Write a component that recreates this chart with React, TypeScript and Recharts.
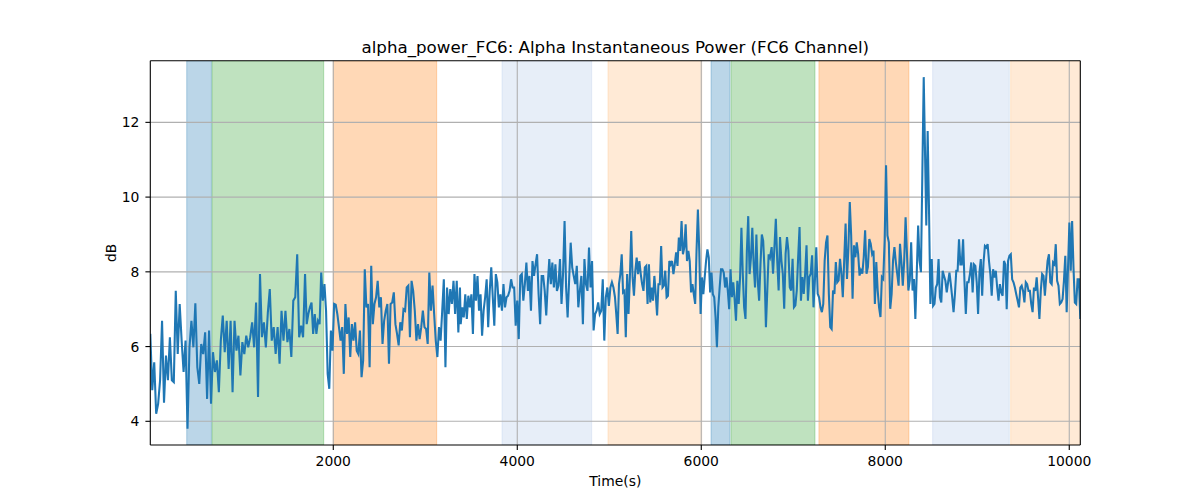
import React from 'react';
import { LineChart, Line, XAxis, YAxis, ReferenceArea, ReferenceLine } from 'recharts';

// alpha power (dB), per section of the time axis
const seg1 = [6.34, 4.83, 5.58, 4.2, 4.47, 5.1, 6.69, 4.5, 5.76, 5.1, 6.25, 5.1, 5.05, 7.49, 5.8, 7.14, 6.16, 5.32, 6.16, 3.8, 5.98, 6.69, 5.98, 7.16, 5.45, 5.0, 6.07, 5.8, 6.38, 4.6, 6.43, 4.47, 5.85, 5.32, 5.63, 4.78, 6.16, 6.83, 5.85, 6.69, 5.4, 6.69, 4.78, 6.69, 5.89, 6.29, 5.23, 6.12, 5.8, 6.29, 5.98, 6.25, 6.65, 5.98, 7.18, 4.65, 7.94, 6.25, 6.65, 5.98, 6.9, 7.54, 6.16, 6.52, 5.8, 6.52, 5.54, 6.96, 6.16, 6.96, 6.12, 6.47, 5.72, 7.23, 7.32, 8.47, 6.25, 6.56, 6.25, 7.94];
const seg2 = [6.6, 6.87, 7.05, 7.18, 6.34, 6.87, 6.34, 6.69, 6.6, 7.98, 7.23, 7.67, 6.96, 5.27, 4.87, 6.43, 5.89, 7.14, 7.12, 6.87, 6.52, 6.16, 6.52, 5.27, 7.14, 6.34, 6.78, 5.72, 6.6, 6.16, 6.65, 5.89, 5.8, 6.43, 5.18, 5.63, 8.07, 7.05, 7.14, 5.45, 8.16, 6.6, 7.14, 7.32, 7.76, 7.05, 7.32, 6.07, 6.69, 6.96, 7.14, 5.54, 7.14, 7.18, 7.45, 6.6, 6.34, 6.03, 6.65, 6.43, 7.0, 6.96, 7.58, 7.63, 6.25, 7.76, 7.49, 6.96, 6.16, 6.6, 6.2, 6.52, 6.96, 6.52, 6.47, 6.07, 7.98, 6.96, 7.63, 6.87, 6.16, 5.72, 6.52, 6.16, 6.96, 7.8, 5.45, 7.58, 6.87, 7.54, 7.14, 7.76, 6.87, 7.76, 6.38, 7.58];
const seg3 = [6.6, 7.05, 6.78, 7.4, 6.74, 7.36, 7.05, 7.4, 6.34, 7.94, 7.23, 7.89, 6.96, 7.4, 6.29, 6.96, 7.32, 7.8, 6.52, 7.49, 8.12, 7.32, 6.56, 7.94, 7.72, 7.05, 7.4, 6.96, 7.67, 7.05, 7.32, 7.36, 7.49, 7.8, 7.58, 7.58, 6.56, 7.23, 6.2, 7.89, 7.94, 7.23, 7.67, 8.25, 7.49, 7.89, 6.96, 8.29, 7.89, 8.2, 8.47, 7.4, 6.6, 7.89, 7.89, 7.49, 6.83, 7.67, 8.34, 7.67, 8.25, 7.58, 8.2, 7.49, 7.63, 8.34, 7.14, 7.94, 9.36, 7.58, 6.78, 7.8, 8.78, 8.12, 7.89, 7.67, 8.16, 7.05, 7.49, 7.89, 6.6, 8.34, 7.67, 7.49, 8.65, 7.58, 8.29, 6.43, 6.87, 6.96, 7.18, 6.87, 6.96, 7.8, 6.16, 7.32, 7.58, 7.09, 7.58, 7.72, 7.58, 7.32];
const seg4 = [6.87, 6.34, 7.67, 7.94, 8.47, 7.45, 7.49, 6.25, 7.94, 6.87, 7.85, 9.09, 7.85, 7.36, 8.03, 8.38, 7.94, 8.29, 7.94, 7.67, 7.49, 8.12, 8.16, 7.14, 8.2, 7.18, 7.58, 7.23, 7.89, 7.4, 6.83, 7.67, 7.67, 8.69, 7.58, 7.63, 8.03, 7.32, 7.36, 8.29, 8.2, 8.29, 7.94, 8.2, 8.52, 8.16, 8.92, 8.56, 9.36, 8.47, 8.65, 9.27, 8.29, 8.56, 8.29, 7.45, 7.67, 7.4, 7.14, 8.56, 9.67, 8.56, 6.87, 7.85, 7.4, 7.85, 8.29, 8.6, 8.38, 7.45, 7.98, 7.4, 7.32, 6.78, 5.98, 7.05, 7.58, 8.07, 8.07, 7.98, 7.58, 7.85, 7.49, 7.0, 8.07, 7.32, 7.72, 7.27, 6.69, 7.76, 7.14, 7.85, 9.18, 7.94, 7.05, 6.74, 8.56, 9.49, 7.94, 8.38, 9.18, 8.2, 7.58, 9.0, 7.76, 7.23, 8.2, 9.0, 8.83, 8.03, 6.52, 7.49, 8.47, 8.38];
const seg5 = [8.66, 7.95, 8.66, 9.42, 8.3, 7.5, 8.93, 8.3, 7.95, 7.01, 8.48, 8.93, 8.57, 7.59, 7.5, 8.35, 7.05, 7.1, 7.5, 8.39, 9.2, 7.23, 7.86, 7.41, 7.95, 8.71, 7.23, 7.86, 7.95, 8.44, 7.05, 7.77, 8.66, 7.41, 7.32, 7.05, 6.92, 7.14, 8.3, 8.79, 8.97, 7.41, 6.52, 6.47, 7.5, 7.41, 8.26, 7.72, 7.77, 8.35, 7.95, 7.32, 8.3, 9.29, 7.81, 8.62, 9.87, 8.97, 7.28, 8.71, 8.39, 8.79, 8.48, 7.9, 8.04, 7.95, 8.39, 9.11, 7.95, 8.13, 8.88, 8.75, 8.48, 8.57, 7.14, 8.26, 7.5, 7.05, 6.79, 7.86, 7.81, 8.84, 10.85, 8.97, 8.79, 7.01, 7.41, 8.3, 8.66, 8.26, 7.95, 7.63, 8.75, 8.26, 7.63, 8.3, 9.46, 8.48, 7.5, 7.77, 8.79, 7.5, 7.81, 6.74, 7.95, 9.24, 8.3, 7.99, 10.6, 13.21];
const seg6 = [9.24, 11.77, 9.65, 7.14, 8.34, 7.09, 7.14, 7.58, 7.67, 8.34, 7.32, 7.18, 8.03, 7.89, 7.76, 7.45, 7.72, 7.98, 7.67, 7.32, 6.92, 7.4, 8.03, 8.03, 8.87, 8.2, 8.2, 8.87, 7.76, 6.87, 7.72, 7.72, 7.94, 8.25, 7.45, 8.2, 8.16, 7.72, 6.87, 7.98, 8.34, 7.36, 8.25, 8.69, 8.65, 8.74, 8.29, 7.94, 7.36, 8.07, 7.85, 8.03, 7.58, 7.23, 7.67, 7.45, 7.36, 8.29, 8.2, 7.0, 8.29, 8.43, 8.47, 7.8, 7.72, 7.58, 7.4, 7.23, 7.05, 7.58, 7.63, 7.49, 7.18, 7.72, 7.67, 7.49, 7.49, 7.14, 6.92, 7.58, 7.49, 7.85, 7.32, 6.74, 7.49, 7.94, 7.89, 7.36, 7.85, 8.29, 8.47, 7.72, 7.67, 8.25, 8.2, 8.74, 7.76, 7.63, 7.14, 7.18, 7.27, 7.76, 8.43, 6.92, 8.12, 9.32, 8.03, 9.36, 8.12, 7.18, 7.14, 7.8, 7.8, 6.74];

// time span (s) covered by each section above
const segStart = [11, 1711, 3385, 5076, 6765, 8446];
const segEnd = [1693, 3377, 5062, 6747, 8418, 10120];

// shaded phases
const spanStart = [407, 682, 2000, 3834, 4986, 6106, 6323, 7279, 8515, 9363];
const spanEnd = [675, 1896, 3124, 4809, 6005, 6312, 7236, 8257, 9348, 10120];
const spanColor = ['#1f77b4', '#2ca02c', '#ff7f0e', '#aec7e8', '#ffbb78', '#1f77b4', '#2ca02c', '#ff7f0e', '#aec7e8', '#ffbb78'];

const xTicks = [2000, 4000, 6000, 8000, 10000];
const yTicks = [4, 6, 8, 10, 12];
const xDomain = [11, 10120];
const yDomain = [3.366, 13.65];

const segments = [seg1, seg2, seg3, seg4, seg5, seg6];
const data = segments.flatMap((vals, k) => {
  const a = segStart[k];
  const b = segEnd[k];
  return vals.map((v, i) => ({ t: a + ((b - a) * i) / (vals.length - 1), v }));
});

const FONT = 'DejaVu Sans';
const tickStyle = { fill: '#000', fontSize: 13.9, fontFamily: FONT };

export default function App() {
  return (
    <div style={{ position: 'absolute', left: 0, top: 0, width: 1200, height: 500, background: '#fff' }}>
      <LineChart
        width={1200}
        height={500}
        data={data}
        margin={{ top: 60.7, right: 119.7, bottom: 25, left: 90.3 }}
      >
        <XAxis
          dataKey="t"
          type="number"
          domain={xDomain}
          allowDataOverflow
          ticks={xTicks}
          height={30}
          tick={tickStyle}
          tickSize={4.9}
          tickMargin={6}
          tickLine={{ stroke: '#000', strokeWidth: 1.1 }}
          axisLine={{ stroke: '#000', strokeWidth: 1.1 }}
        />
        <YAxis
          type="number"
          domain={yDomain}
          allowDataOverflow
          ticks={yTicks}
          width={60}
          tick={tickStyle}
          tickSize={4.9}
          tickMargin={6}
          tickLine={{ stroke: '#000', strokeWidth: 1.1 }}
          axisLine={{ stroke: '#000', strokeWidth: 1.1 }}
        />
        {spanStart.map((s, i) => (
          <ReferenceArea
            key={'a' + i}
            x1={s}
            x2={spanEnd[i]}
            fill={spanColor[i]}
            fillOpacity={0.3}
            stroke={spanColor[i]}
            strokeOpacity={0.3}
            strokeWidth={1}
            ifOverflow="hidden"
          />
        ))}
        {xTicks.map((x) => (
          <ReferenceLine key={'gx' + x} x={x} stroke="#b0b0b0" strokeWidth={1.1} />
        ))}
        {yTicks.map((y) => (
          <ReferenceLine key={'gy' + y} y={y} stroke="#b0b0b0" strokeWidth={1.1} />
        ))}
        <Line
          type="linear"
          dataKey="v"
          stroke="#1f77b4"
          strokeWidth={2.08}
          dot={false}
          activeDot={false}
          isAnimationActive={false}
        />
        <ReferenceLine x={xDomain[1]} stroke="#000" strokeWidth={1.1} ifOverflow="visible" />
        <ReferenceLine y={yDomain[1]} stroke="#000" strokeWidth={1.1} ifOverflow="visible" />
      </LineChart>
      <svg
        width={1200}
        height={500}
        style={{ position: 'absolute', left: 0, top: 0, pointerEvents: 'none' }}
      >
        <text x={615.3} y={52.7} textAnchor="middle" fontFamily={FONT} fontSize={16.67} fill="#000">
          alpha_power_FC6: Alpha Instantaneous Power (FC6 Channel)
        </text>
        <text x={615.3} y={485.7} textAnchor="middle" fontFamily={FONT} fontSize={13.9} fill="#000">
          Time(s)
        </text>
        <text
          transform="translate(116,252.85) rotate(-90)"
          textAnchor="middle"
          fontFamily={FONT}
          fontSize={13.9}
          fill="#000"
        >
          dB
        </text>
      </svg>
    </div>
  );
}
